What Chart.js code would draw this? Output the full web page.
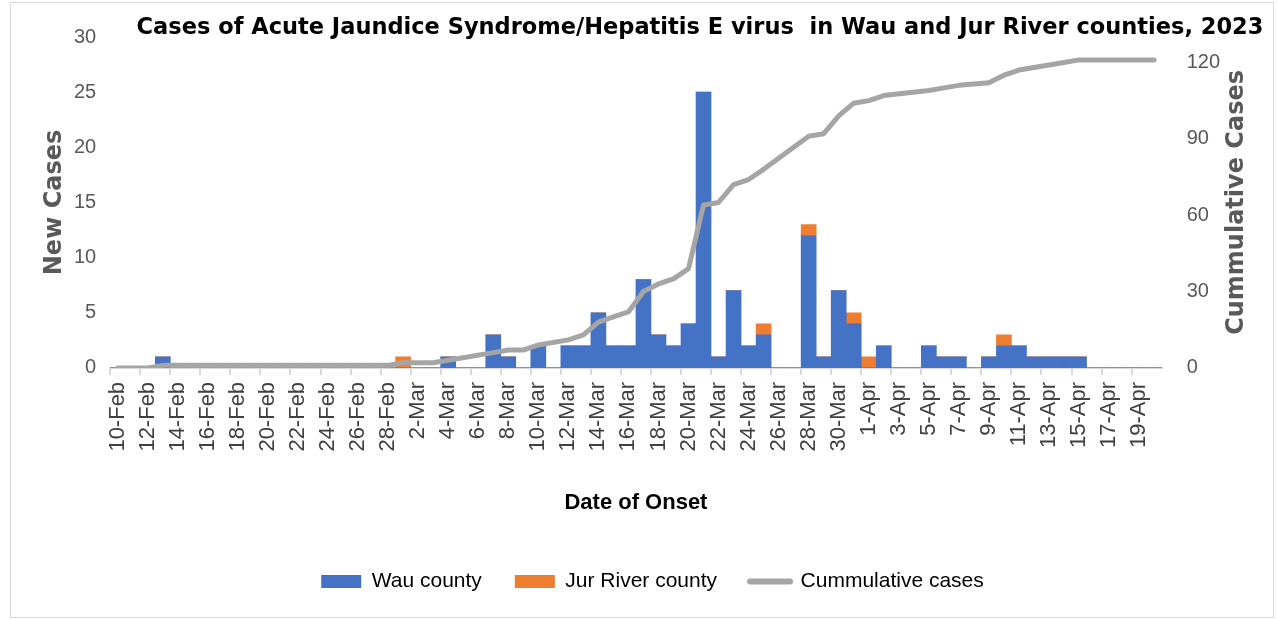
<!DOCTYPE html>
<html>
<head>
<meta charset="utf-8">
<script src="https://cdn.jsdelivr.net/npm/chart.js@4.4.1/dist/chart.umd.min.js"></script>
<style>
    body { margin: 0; background: #fff; }
    #caixa { position: absolute; left: 0; top: 0; width: 1277px; height: 620px; }
    #moldura { position: absolute; left: 10px; top: 2px; width: 1262px; height: 614px; border: 1px solid #d9d9d9; pointer-events: none; }
</style>
</head>
<body>
<div id="caixa"><canvas id="grafico"></canvas></div>
<div id="moldura"></div>
<script>
const titulo = 'Cases of Acute Jaundice Syndrome/Hepatitis E virus  in Wau and Jur River counties, 2023';

const datas = [
    '10-Feb', '11-Feb', '12-Feb', '13-Feb', '14-Feb', '15-Feb', '16-Feb', '17-Feb', '18-Feb', '19-Feb',
    '20-Feb', '21-Feb', '22-Feb', '23-Feb', '24-Feb', '25-Feb', '26-Feb', '27-Feb', '28-Feb', '1-Mar',
    '2-Mar', '3-Mar', '4-Mar', '5-Mar', '6-Mar', '7-Mar', '8-Mar', '9-Mar', '10-Mar', '11-Mar',
    '12-Mar', '13-Mar', '14-Mar', '15-Mar', '16-Mar', '17-Mar', '18-Mar', '19-Mar', '20-Mar', '21-Mar',
    '22-Mar', '23-Mar', '24-Mar', '25-Mar', '26-Mar', '27-Mar', '28-Mar', '29-Mar', '30-Mar', '31-Mar',
    '1-Apr', '2-Apr', '3-Apr', '4-Apr', '5-Apr', '6-Apr', '7-Apr', '8-Apr', '9-Apr', '10-Apr',
    '11-Apr', '12-Apr', '13-Apr', '14-Apr', '15-Apr', '16-Apr', '17-Apr', '18-Apr', '19-Apr', '20-Apr'
];

const casosWau = [
    0, 0, 0, 1, 0, 0, 0, 0, 0, 0,
    0, 0, 0, 0, 0, 0, 0, 0, 0, 0,
    0, 0, 1, 0, 0, 3, 1, 0, 2, 0,
    2, 2, 5, 2, 2, 8, 3, 2, 4, 25,
    1, 7, 2, 3, 0, 0, 12, 1, 7, 4,
    0, 2, 0, 0, 2, 1, 1, 0, 1, 2,
    2, 1, 1, 1, 1, 0, 0, 0, 0, 0
];

const casosJur = [
    0, 0, 0, 0, 0, 0, 0, 0, 0, 0,
    0, 0, 0, 0, 0, 0, 0, 0, 0, 1,
    0, 0, 0, 0, 0, 0, 0, 0, 0, 0,
    0, 0, 0, 0, 0, 0, 0, 0, 0, 0,
    0, 0, 0, 1, 0, 0, 1, 0, 0, 1,
    1, 0, 0, 0, 0, 0, 0, 0, 0, 1,
    0, 0, 0, 0, 0, 0, 0, 0, 0, 0
];

// null = dia sem registro, a linha liga os pontos vizinhos
const acumulado = [
    0, 0, 0, 1, 1, 1, 1, 1, 1, 1,
    1, 1, 1, 1, 1, 1, 1, 1, 1, 2,
    2, 2, 3, null, null, 6, 7, 7, 9, null,
    11, 13, 18, 20, 22, 30, 33, 35, 39, 64,
    65, 72, 74, 78, null, null, 91, 92, 99, 104,
    105, 107, null, null, 109, 110, 111, null, 112, 115,
    117, 118, 119, 120, 121, 121, 121, 121, 121, 121
];

const fonteTexto = 'Liberation Sans';
const fonteTitulo = 'DejaVu Sans';

// titulo geral e titulos dos eixos desenhados por cima
const tituloPlugin = {
    id: 'titulo',
    afterDraw(chart) {
        const ctx = chart.ctx;
        const area = chart.chartArea;
        const meio = (area.top + area.bottom) / 2;
        ctx.save();
        ctx.textAlign = 'center';
        ctx.textBaseline = 'middle';

        ctx.font = 'bold 22.5px "' + fonteTitulo + '"';
        ctx.fillStyle = '#000000';
        ctx.fillText(titulo, 700, 28);

        ctx.font = 'bold 24px "' + fonteTitulo + '"';
        ctx.fillStyle = '#595959';

        ctx.save();
        ctx.translate(chart.scales.y.left - 5, meio);
        ctx.rotate(-Math.PI / 2);
        ctx.fillText('New Cases', 0, 0);
        ctx.restore();

        ctx.save();
        ctx.translate(chart.scales.y1.right - 8, meio);
        ctx.rotate(-Math.PI / 2);
        ctx.fillText('Cummulative Cases', 0, 0);
        ctx.restore();

        ctx.restore();
    }
};

const contexto = document.getElementById('grafico').getContext('2d');

const grafico = new Chart(contexto, {
    type: 'bar',
    data: {
        labels: datas,
        datasets: [{
            label: 'Wau county',
            data: casosWau,
            backgroundColor: '#4472C4',
            borderWidth: 0,
            barPercentage: 1,
            categoryPercentage: 1,
            yAxisID: 'y',
            order: 1
        }, {
            label: 'Jur River county',
            data: casosJur,
            backgroundColor: '#ED7D31',
            borderWidth: 0,
            barPercentage: 1,
            categoryPercentage: 1,
            yAxisID: 'y',
            order: 1
        }, {
            type: 'line',
            label: 'Cummulative cases',
            data: acumulado,
            borderColor: '#A5A5A5',
            backgroundColor: '#A5A5A5',
            borderWidth: 5,
            tension: 0,
            spanGaps: true,
            pointRadius: 0,
            borderJoinStyle: 'round',
            borderCapStyle: 'round',
            yAxisID: 'y1',
            order: 0
        }]
    },
    options: {
        responsive: true,
        maintainAspectRatio: false,
        animation: false,
        layout: {
            padding: { left: 60, right: 32, top: 24, bottom: 18 }
        },
        scales: {
            x: {
                stacked: true,
                grid: {
                    drawOnChartArea: false,
                    drawTicks: true,
                    tickLength: 7,
                    lineWidth: 2,
                    color: (c) => c.index % 2 === 0 ? '#D9D9D9' : 'rgba(0,0,0,0)'
                },
                border: { display: true, color: '#D9D9D9', width: 2 },
                ticks: {
                    autoSkip: false,
                    minRotation: 90,
                    maxRotation: 90,
                    padding: 7,
                    color: '#404040',
                    font: { family: fonteTexto, size: 22 },
                    callback: function (valor, i) {
                        return i % 2 === 0 ? datas[i] : '';
                    }
                },
                title: {
                    display: true,
                    text: 'Date of Onset',
                    color: '#000000',
                    font: { family: fonteTexto, size: 22, weight: 'bold' },
                    padding: { top: 31, bottom: 22 }
                }
            },
            y: {
                stacked: true,
                min: 0,
                max: 30,
                grid: { display: false, drawTicks: false },
                border: { display: false },
                ticks: {
                    stepSize: 5,
                    padding: 14,
                    color: '#595959',
                    font: { family: fonteTexto, size: 20 }
                }
            },
            y1: {
                position: 'right',
                min: 0,
                max: 130,
                grid: { display: false, drawTicks: false },
                border: { display: false },
                ticks: {
                    stepSize: 30,
                    includeBounds: false,
                    padding: 25,
                    color: '#595959',
                    font: { family: fonteTexto, size: 20 }
                }
            }
        },
        plugins: {
            legend: {
                display: true,
                position: 'bottom',
                labels: {
                    color: '#000000',
                    font: { family: fonteTexto, size: 21 },
                    usePointStyle: true,
                    pointStyleWidth: 40,
                    boxHeight: 13,
                    padding: 33,
                    sort: (a, b) => a.datasetIndex - b.datasetIndex,
                    generateLabels: function (chart) {
                        const itens = Chart.defaults.plugins.legend.labels.generateLabels(chart);
                        itens.forEach((item) => {
                            if (item.datasetIndex === 2) {
                                item.pointStyle = 'line';
                                item.lineWidth = 6;
                                item.strokeStyle = '#A5A5A5';
                                item.lineCap = 'round';
                            } else {
                                item.pointStyle = 'rect';
                                item.lineWidth = 0;
                            }
                        });
                        return itens;
                    }
                }
            },
            tooltip: { enabled: false }
        }
    },
    plugins: [tituloPlugin]
});
</script>
</body>
</html>
